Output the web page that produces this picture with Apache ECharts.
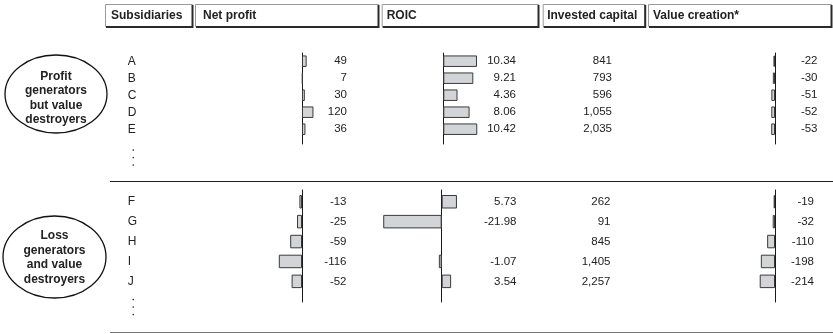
<!DOCTYPE html>
<html>
<head>
<meta charset="utf-8">
<style>
  html, body { margin: 0; padding: 0; background: #ffffff; }
  #chart { width: 833px; height: 334px; }
</style>
<script src="https://cdn.jsdelivr.net/npm/echarts@6/dist/echarts.min.js"></script>
</head>
<body>
<div id="chart"></div>
<script>
// ---- data ----
const columnTitles = ['Subsidiaries', 'Net profit', 'ROIC', 'Invested capital', 'Value creation*'];
const groupNames = ['Profit\ngenerators\nbut value\ndestroyers', 'Loss\ngenerators\nand value\ndestroyers'];

const rowsTop = ['A', 'B', 'C', 'D', 'E'];
const rowsBottom = ['F', 'G', 'H', 'I', 'J'];

const netProfitTop = [49, 7, 30, 120, 36];
const netProfitBottom = [-13, -25, -59, -116, -52];

const roicTop = [10.34, 9.21, 4.36, 8.06, 10.42];
const roicBottom = [5.73, -21.98, null, -1.07, 3.54];

const capitalTop = [841, 793, 596, 1055, 2035];
const capitalBottom = [262, 91, 845, 1405, 2257];

const valueTop = [-22, -30, -51, -52, -53];
const valueBottom = [-19, -32, -110, -198, -214];

// ---- layout ----
const FONT = '"Liberation Sans", Arial, Helvetica, sans-serif';
const TEXT = '#222222';
const BAR_FILL = '#d3d4d8';
const BAR_EDGE = '#3a3a3a';

const sections = [
  { rows: rowsTop, top: 52.7, band: 17, barWidth: 11.5, axisTop: 53, axisBottom: 144, dotsY: 150 },
  { rows: rowsBottom, top: 191.8, band: 19.9, barWidth: 13.5, axisTop: 190, axisBottom: 302, dotsY: 299.5 }
];

const fmtPlain = v => (v == null ? '' : String(v));
const fmtPct = v => (v == null ? '' : v.toFixed(2));
const fmtThousands = v => (v == null ? '' : v.toLocaleString('en-US'));

// bar columns: zero position, pixels per unit, value range, label anchor and vertical nudge per section
const barColumns = [
  { name: 'Net profit', data: [netProfitTop, netProfitBottom], zero: [302, 302], ppu: [1 / 10.5, 1 / 5],
    range: [[-210, 210], [-150, 150]], labelRight: [347, 346.5], nudge: [3, 3], fmt: fmtPlain },
  { name: 'ROIC', data: [roicTop, roicBottom], zero: [443.3, 441.7], ppu: [3.26, 2.66],
    range: [[-5, 15], [-25, 10]], labelRight: [516, 516.5], nudge: [3, 0.3], fmt: fmtPct },
  { name: 'Value creation', data: [valueTop, valueBottom], zero: [775, 775], ppu: [1 / 14, 1 / 14],
    range: [[-280, 140], [-280, 140]], labelRight: [817.5, 814], nudge: [3.2, 3.2], fmt: fmtPlain }
];
const capitalColumn = { data: [capitalTop, capitalBottom], labelRight: [612, 610.5], nudge: [3.2, 1.5], fmt: fmtThousands };
const letterColumn = { left: 127.7, nudge: [1.3, 1] };

const grid = [], xAxis = [], yAxis = [], series = [];

function addGrid(g, xa, ys) {
  const gi = grid.length;
  grid.push(Object.assign({ containLabel: false }, g));
  xAxis.push(Object.assign({ gridIndex: gi, type: 'value', show: false }, xa));
  const ids = [];
  ys.forEach(y => { ids.push(yAxis.length); yAxis.push(Object.assign({ gridIndex: gi }, y)); });
  return { gi, xi: xAxis.length - 1, yi: ids };
}

function labelAxis(rows, values, fmt, nudge, extra) {
  return Object.assign({
    type: 'category', data: rows, inverse: true, position: 'left',
    axisLine: { show: false }, axisTick: { show: false }, splitLine: { show: false },
    axisLabel: {
      margin: 0, fontFamily: FONT, fontSize: 11.5, color: TEXT,
      padding: [nudge * 2, 0, 0, 0],
      formatter: (v, i) => fmt(values[i])
    }
  }, extra || {});
}

sections.forEach((sec, s) => {
  const height = sec.band * sec.rows.length;

  // subsidiary letters
  addGrid({ left: letterColumn.left, top: sec.top, width: 20, height },
    { min: 0, max: 1 },
    [{
      type: 'category', data: sec.rows, inverse: true, position: 'left',
      axisLine: { show: false }, axisTick: { show: false },
      axisLabel: { inside: true, margin: 0, fontFamily: FONT, fontSize: 12, color: TEXT,
        padding: [letterColumn.nudge[s] * 2, 0, 0, 0] }
    }]);

  barColumns.forEach(col => {
    const [min, max] = col.range[s];
    const ppu = col.ppu[s];
    const left = col.zero[s] + min * ppu;
    const width = (max - min) * ppu;
    const values = col.data[s];

    // bars
    const g = addGrid({ left, top: sec.top, width, height }, { min, max },
      [{ type: 'category', data: sec.rows, inverse: true, axisLine: { show: false },
         axisTick: { show: false }, axisLabel: { show: false } }]);
    series.push({
      type: 'bar', name: col.name, xAxisIndex: g.xi, yAxisIndex: g.yi[0],
      data: values, barWidth: sec.barWidth, silent: true, animation: false,
      itemStyle: { color: BAR_FILL, borderColor: BAR_EDGE, borderWidth: 1 }
    });

    // zero line
    addGrid({ left, top: sec.axisTop, width, height: sec.axisBottom - sec.axisTop }, { min, max },
      [{ type: 'category', data: [''], axisTick: { show: false }, axisLabel: { show: false },
         axisLine: { show: true, onZero: true, lineStyle: { color: '#1a1a1a', width: 1 } } }]);

    // value labels
    addGrid({ left: col.labelRight[s], top: sec.top, width: 10, height }, { min: 0, max: 1 },
      [labelAxis(sec.rows, values, col.fmt, col.nudge[s])]);
  });

  // invested capital labels
  addGrid({ left: capitalColumn.labelRight[s], top: sec.top, width: 10, height }, { min: 0, max: 1 },
    [labelAxis(sec.rows, capitalColumn.data[s], capitalColumn.fmt, capitalColumn.nudge[s])]);
});

// ---- decorations: header boxes, group ovals, separators ----
const graphic = [];
const headerBoxes = [[105, 193, 6], [195, 379, 8], [381.7, 539, 5], [542.7, 645.7, 4.5], [648, 832, 5]];
headerBoxes.forEach((b, i) => {
  const [x0, x1, pad] = b;
  graphic.push({ type: 'rect', shape: { x: x0 + 0.5, y: 4.5, width: x1 - x0 - 1, height: 22 },
    style: { fill: '#ffffff', stroke: '#9a9a9a', lineWidth: 1 }, silent: true });
  graphic.push({ type: 'polyline', shape: { points: [[x1 - 0.5, 5], [x1 - 0.5, 27], [x0 + 1, 27]] },
    style: { stroke: '#2a2a2a', lineWidth: 2, fill: null }, silent: true });
  graphic.push({ type: 'text', x: x0 + pad, y: 15.5, silent: true,
    style: { text: columnTitles[i], font: 'bold 12px ' + FONT, fill: TEXT, textVerticalAlign: 'middle' } });
});

const ovals = [
  { cx: 56, cy: 94, rx: 51, ry: 39, ty: 98 },
  { cx: 54.5, cy: 257, rx: 51.5, ry: 41, ty: 257.5 }
];
ovals.forEach((o, i) => {
  graphic.push({ type: 'ellipse', shape: { cx: o.cx, cy: o.cy, rx: o.rx, ry: o.ry },
    style: { fill: '#ffffff', stroke: '#111111', lineWidth: 1.3 }, silent: true });
  graphic.push({ type: 'text', x: o.cx, y: o.ty, silent: true,
    style: { text: groupNames[i], font: 'bold 12px ' + FONT, fill: TEXT, lineHeight: 14.5,
      textAlign: 'center', textVerticalAlign: 'middle' } });
});

// section dividers
graphic.push({ type: 'line', shape: { x1: 110, y1: 181.5, x2: 833, y2: 181.5 },
  style: { stroke: '#1e1e1e', lineWidth: 1.2 }, silent: true });
graphic.push({ type: 'line', shape: { x1: 110, y1: 332.5, x2: 833, y2: 332.5 },
  style: { stroke: '#777777', lineWidth: 1.2 }, silent: true });

// vertical ellipsis under each list of subsidiaries
sections.forEach(sec => {
  [0, 7.5, 15].forEach(d => {
    graphic.push({ type: 'circle', shape: { cx: 133.3, cy: sec.dotsY + d, r: 0.85 },
      style: { fill: '#333333' }, silent: true });
  });
});

const chart = echarts.init(document.getElementById('chart'), null, { renderer: 'canvas' });
chart.setOption({
  animation: false,
  backgroundColor: '#ffffff',
  grid, xAxis, yAxis, series, graphic
});
</script>
</body>
</html>
